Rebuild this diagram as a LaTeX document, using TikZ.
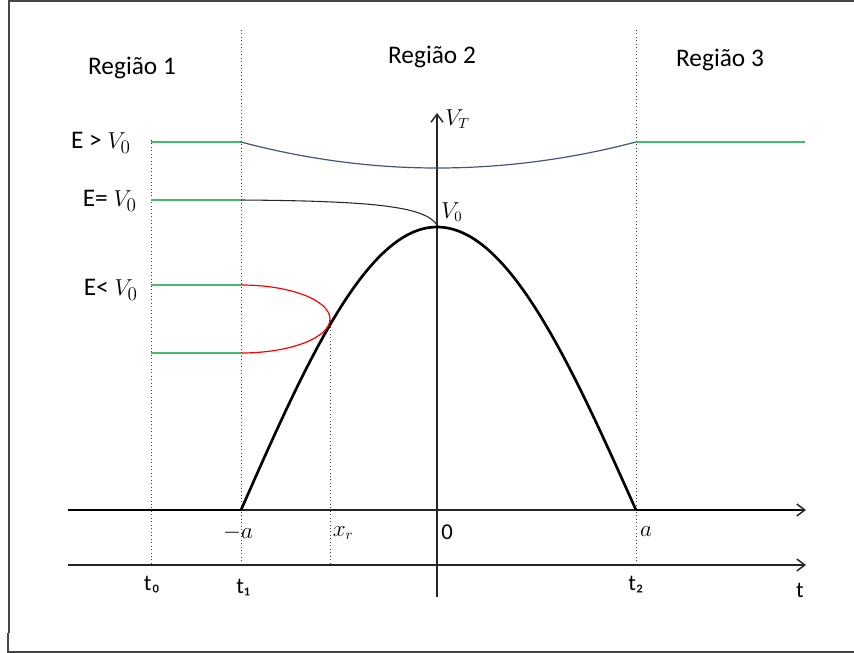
\documentclass[tikz,border=0pt]{standalone}
\usepackage{fontspec}
\setmainfont{Carlito}
\usetikzlibrary{arrows.meta}
\definecolor{lvgreen}{RGB}{70,185,110}
\definecolor{lvblue}{RGB}{68,84,120}
\definecolor{lvframe}{RGB}{70,70,70}
\tikzset{
  frameline/.style={draw=lvframe, line width=1.5pt},
  guide/.style={draw=black!75, line width=0.6pt, dotted},
  axisline/.style={draw=black!85, line width=1.1pt, -{Straight Barb[length=6pt,width=9pt]}},
  potential/.style={draw=black, line width=2pt},
  level/.style={draw=lvgreen, line width=1pt},
  region/.style={font=\fontsize{19}{22}\selectfont, inner sep=0pt},
  elabel/.style={font=\fontsize{19}{22}\selectfont, inner sep=0pt, anchor=east},
  tlabel/.style={font=\fontsize{17}{19}\selectfont, inner sep=0pt},
  mlabel/.style={font=\fontsize{16}{18}\selectfont, inner sep=0pt}
}
\begin{document}
\begin{tikzpicture}[x=0.75pt,y=-0.75pt]
\useasboundingbox (0,0) rectangle (854,653);
% frame
\coordinate (fTL) at (9,1);
\coordinate (fTR) at (854,1);
\coordinate (fBL) at (9,633);
\coordinate (fBL2) at (8,633);
\coordinate (fBL3) at (8,652);
\coordinate (fBR) at (854,652);
\draw[frameline] (fTR) -- (fTL) -- (fBL);
\draw[frameline] (fBL2) -- (fBL3) -- (fBR);
% guides
\coordinate (g0t) at (151,140); \coordinate (g0b) at (151,565);
\coordinate (g1t) at (241,30);  \coordinate (g1b) at (241,565);
\coordinate (grt) at (330,320); \coordinate (grb) at (330,565);
\coordinate (g2t) at (636,30);  \coordinate (g2b) at (636,565);
\draw[guide] (g0t) -- (g0b);
\draw[guide] (g1t) -- (g1b);
\draw[guide] (grt) -- (grb);
\draw[guide] (g2t) -- (g2b);
% axes
\coordinate (xa0) at (68,510); \coordinate (xa1) at (806,510);
\coordinate (ta0) at (68,565); \coordinate (ta1) at (806,565);
\coordinate (va0) at (437,597); \coordinate (va1) at (437,113);
\draw[axisline] (xa0) -- (xa1);
\draw[axisline] (ta0) -- (ta1);
\draw[axisline] (va0) -- (va1);
% potential
\coordinate (pL0) at (68,510); \coordinate (pL1) at (241,510);
\coordinate (pR0) at (636,510); \coordinate (pR1) at (800,510);
\draw[potential] (pL0) -- (pL1);
\draw[potential] (pR0) -- (pR1);
\draw[potential, line join=round] plot[domain=-1:1, samples=81, smooth]
  ({437+\x*(\x<0 ? 196 : 199)},{510-283*cos(\x*90)});
% energy levels
\coordinate (e1a) at (151,142); \coordinate (e1b) at (241,142);
\coordinate (e1c) at (636,142); \coordinate (e1d) at (805,142);
\draw[level] (e1a) -- (e1b);
\draw[level] (e1c) -- (e1d);
\draw[draw=lvblue, line width=0.9pt] plot[domain=-1:1, samples=61, smooth]
  ({437+\x*(\x<0 ? 196 : 199)},{168-26*(\x)^2});
\coordinate (e2a) at (151,200); \coordinate (e2b) at (241,200);
\coordinate (e2c) at (437,225);
\draw[level] (e2a) -- (e2b);
\draw[draw=black!85, line width=0.8pt] (e2b) .. controls (370,201) and (425,206) .. (e2c);
\coordinate (e3a) at (151,285); \coordinate (e3b) at (241,285);
\coordinate (e4a) at (151,353); \coordinate (e4b) at (241,353);
\draw[level] (e3a) -- (e3b);
\draw[level] (e4a) -- (e4b);
\draw[draw=red, line width=0.9pt] (e3b) arc[start angle=-90, end angle=90, x radius=89, y radius=34];
% labels
\node[region] (r1) at (132,68) {Região 1};
\node[region] (r2) at (432,57) {Região 2};
\node[region] (r3) at (720,60) {Região 3};
\node[elabel] (lE1) at (131,143) {E > $V_0$};
\node[elabel] (lE2) at (137,201) {E= $V_0$};
\node[elabel] (lE3) at (138,290) {E< $V_0$};
\node[mlabel, anchor=west] (lVT) at (445,119) {$V_T$};
\node[mlabel, anchor=west] (lV0) at (441,212) {$V_0$};
\node[mlabel] (lma) at (238,533) {$-a$};
\node[mlabel] (lxr) at (343,533) {$x_r$};
\node[tlabel] (l0) at (447,532) {0};
\node[mlabel] (la) at (646,532) {$a$};
\node[tlabel] (lt0) at (152,585) {t₀};
\node[tlabel] (lt1) at (243,588) {t₁};
\node[tlabel] (lt2) at (636,585) {t₂};
\node[tlabel] (lt) at (800,590) {t};
\end{tikzpicture}
\end{document}
